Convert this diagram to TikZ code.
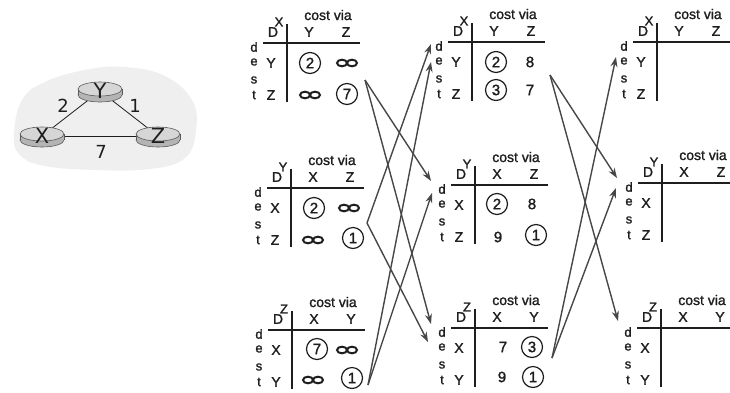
\documentclass[tikz,border=0pt]{standalone}
\usepackage{fontspec}
\setmainfont{Liberation Sans}
\newfontfamily\medfont{Liberation Sans}[FakeBold=1.5]
\newfontfamily\thinfont{DejaVu Sans}
\usetikzlibrary{arrows.meta}
\definecolor{inkc}{HTML}{1E1E1E}
\definecolor{arrc}{HTML}{474747}
\definecolor{cloudc}{HTML}{EFEFEF}
\definecolor{rtopc}{HTML}{D6D6D6}
\definecolor{rsidec}{HTML}{B4B4B4}
\definecolor{redgec}{HTML}{5A5A5A}
\tikzset{
  tabline/.style={draw=inkc,line width=1.9pt},
  txt/.style={inner sep=0pt,text=inkc,font=\medfont\fontsize{14}{16}\selectfont},
  own/.style={inner sep=0pt,text=inkc,font=\medfont\fontsize{13}{15}\selectfont},
  dst/.style={inner sep=0pt,text=inkc,font=\medfont\fontsize{13}{15}\selectfont},
  circ/.style={circle,draw=inkc,line width=1.2pt,minimum size=21pt,inner sep=0pt,text=inkc,font=\medfont\fontsize{15}{17}\selectfont},
  val/.style={inner sep=0pt,text=inkc,font=\medfont\fontsize{15}{17}\selectfont},
  infl/.style={draw=inkc,line width=2pt},
  upd/.style={draw=arrc,line width=1.4pt,-{Stealth[length=10pt,width=7pt]}},
  rlab/.style={inner sep=0pt,text=inkc,font=\thinfont\fontsize{21}{24}\selectfont},
  wlab/.style={inner sep=0pt,text=inkc,font=\thinfont\fontsize{18}{21}\selectfont},
  link/.style={draw=inkc,line width=0.8pt}
}
\newcommand{\dvtab}[7]{%
  \draw[tabline] (-24,0) -- (73,0);
  \draw[tabline] (0,-19) -- (0,59);
  \node[txt] (#1cv) at (41,-28) {cost via};
  \node[txt] (#1D) at (-14,-11) {D};
  \node[own] (#1own) at (-8,-21) {#2};
  \node[txt] (#1h1) at (22,-11) {#3};
  \node[txt] (#1h2) at (59,-11) {#4};
  \node[txt] (#1r1) at (-16,20) {#5};
  \node[txt] (#1r2) at (-16,52) {#6};
  \node[dst] (#1d) at (-33,4) {d};
  \node[dst] (#1e) at (-33,19) {e};
  \node[dst] (#1s) at (-33,37) {s};
  \node[dst] (#1t) at (-33,52) {t};
}
\newcommand{\infsym}[2]{%
  \draw[infl] (#1-5,#2) ellipse [x radius=5,y radius=3.3] (#1+5,#2) ellipse [x radius=5,y radius=3.3];
}
\newcommand{\router}[4]{%
  \begin{scope}[shift={(#2,#3)}]
    \draw[draw=redgec,fill=rsidec,line width=0.6pt] (0,4) ellipse [x radius=22,y radius=7];
    \fill[rsidec] (-22,-2) rectangle (22,4);
    \draw[redgec,line width=0.6pt] (-22,-2) -- (-22,4) (22,-2) -- (22,4);
    \draw[draw=redgec,fill=rtopc,line width=0.6pt] (0,-2) ellipse [x radius=22,y radius=7];
  \end{scope}
  \node[rlab] (#1) at (#2,#3) {#4};
}
\begin{document}
\begin{tikzpicture}[x=1pt,y=-1pt]
\useasboundingbox (0,0) rectangle (730,392);
% network
\fill[cloudc] plot[smooth cycle,tension=0.7] coordinates {(14,135) (22,100) (45,82) (85,70) (125,67) (165,76) (192,100) (196,130) (185,158) (150,169) (95,170) (45,166) (20,155)};
\coordinate (cX) at (42,136);
\coordinate (cY) at (100,91);
\coordinate (cZ) at (158,136);
\draw[link] (cX) -- (cY);
\draw[link] (cY) -- (cZ);
\draw[link] (cX) -- (cZ);
\router{rY}{100}{91}{Y}
\router{rX}{42}{136}{X}
\router{rZ}{158}{136}{Z}
\node[wlab] (w2) at (63,106) {2};
\node[wlab] (w1) at (135,106) {1};
\node[wlab] (w7) at (101,152) {7};
% column 1
\begin{scope}[shift={(287,43)}]
  \dvtab{xa}{X}{Y}{Z}{Y}{Z}{}
  \node[circ] (xa11) at (23,20) {2};
  \infsym{60}{20}
  \infsym{23}{52}
  \node[circ] (xa22) at (60,51) {7};
\end{scope}
\begin{scope}[shift={(291,188)}]
  \dvtab{ya}{Y}{X}{Z}{X}{Z}{}
  \node[circ] (ya11) at (23,20) {2};
  \infsym{58}{20}
  \infsym{22}{52}
  \node[circ] (ya22) at (62,50) {1};
\end{scope}
\begin{scope}[shift={(292,330)}]
  \dvtab{za}{Z}{X}{Y}{X}{Y}{}
  \node[circ] (za11) at (25,19) {7};
  \infsym{55}{20}
  \infsym{21}{50}
  \node[circ] (za22) at (60,48) {1};
\end{scope}
% column 2
\begin{scope}[shift={(472,42)}]
  \dvtab{xb}{X}{Y}{Z}{Y}{Z}{}
  \node[circ] (xb11) at (24,20) {2};
  \node[val] (xb12) at (58,20) {8};
  \node[circ] (xb21) at (24,48) {3};
  \node[val] (xb22) at (58,48) {7};
\end{scope}
\begin{scope}[shift={(475,185)}]
  \dvtab{yb}{Y}{X}{Z}{X}{Z}{}
  \node[circ] (yb11) at (22,19) {2};
  \node[val] (yb12) at (57,19) {8};
  \node[val] (yb21) at (23,52) {9};
  \node[circ] (yb22) at (61,50) {1};
\end{scope}
\begin{scope}[shift={(475,328)}]
  \dvtab{zb}{Z}{X}{Y}{X}{Y}{}
  \node[val] (zb11) at (28,19) {7};
  \node[circ] (zb12) at (57,19) {3};
  \node[val] (zb21) at (27,49) {9};
  \node[circ] (zb22) at (58,49) {1};
\end{scope}
% column 3
\begin{scope}[shift={(657,42)}]
  \dvtab{xc}{X}{Y}{Z}{Y}{Z}{}
\end{scope}
\begin{scope}[shift={(662,183)}]
  \dvtab{yc}{Y}{X}{Z}{X}{Z}{}
\end{scope}
\begin{scope}[shift={(661,328)}]
  \dvtab{zc}{Z}{X}{Y}{X}{Y}{}
\end{scope}
% arrows column 1 -> column 2
\coordinate (sX1) at (365,80);
\coordinate (sY1) at (367,223);
\coordinate (sZ1) at (368,385);
\coordinate (tX2a) at (431,44);
\coordinate (tX2b) at (431,62);
\coordinate (tY2a) at (431,181);
\coordinate (tY2b) at (432,193);
\coordinate (tZ2a) at (431,324);
\coordinate (tZ2b) at (428,342);
\draw[upd] (sX1) -- (tY2a);
\draw[upd] (sX1) -- (tZ2a);
\draw[upd] (sY1) -- (tX2a);
\draw[upd] (sY1) -- (tZ2b);
\draw[upd] (sZ1) -- (tX2b);
\draw[upd] (sZ1) -- (tY2b);
% arrows column 2 -> column 3
\coordinate (sX2) at (550,75);
\coordinate (sZ2) at (552,358);
\coordinate (tX3) at (616,57);
\coordinate (tY3a) at (617,178);
\coordinate (tY3b) at (616,188);
\coordinate (tZ3) at (618,321);
\draw[upd] (sX2) -- (tY3a);
\draw[upd] (sX2) -- (tZ3);
\draw[upd] (sZ2) -- (tX3);
\draw[upd] (sZ2) -- (tY3b);
\end{tikzpicture}
\end{document}
